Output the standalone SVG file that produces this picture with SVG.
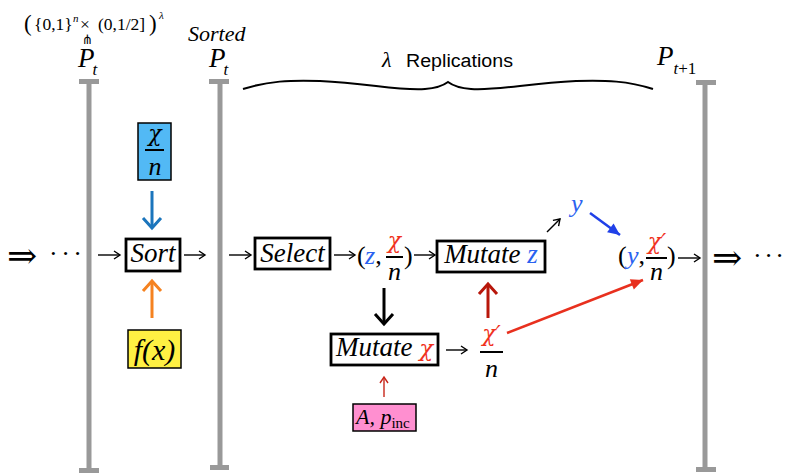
<svg xmlns="http://www.w3.org/2000/svg" width="787" height="473" viewBox="0 0 787 473">
<style>
text{font-family:"Liberation Serif","DejaVu Serif",serif;fill:#000}
.it{font-style:italic}
.sans{font-family:"Liberation Sans",Arial,sans-serif}
.dj{font-family:"DejaVu Serif",serif}
.djs{font-family:"DejaVu Sans",sans-serif}
.chi{font-family:"DejaVu Serif",serif;font-style:italic}
.bar{stroke:#999;stroke-width:5;fill:none}
.cap{fill:#999}
.box{fill:#fff;stroke:#000;stroke-width:2.8}
.tb{stroke:#000;stroke-width:1.5}
.frac{stroke:#000;stroke-width:2}
.thin{stroke:#000;stroke-width:1.4;fill:none;marker-end:url(#hThin)}
.blue{fill:#2a62f0}
.red{fill:#f0321e}
.lbl{font-size:26px}
</style>
<defs>
<marker id="hThin" markerUnits="userSpaceOnUse" markerWidth="20" markerHeight="20" viewBox="-10 -10 20 20" refX="0" refY="0" orient="auto" overflow="visible"><path d="M-6,-4 L0,0 L-6,4" fill="none" stroke="#000" stroke-width="1.4"/></marker>
<marker id="hThinRed" markerUnits="userSpaceOnUse" markerWidth="20" markerHeight="20" viewBox="-10 -10 20 20" refX="0" refY="0" orient="auto" overflow="visible"><path d="M-6,-4 L0,0 L-6,4" fill="none" stroke="#c8261a" stroke-width="1.4"/></marker>
<marker id="hBlue" markerUnits="userSpaceOnUse" markerWidth="30" markerHeight="30" viewBox="-15 -15 30 30" refX="0" refY="0" orient="auto" overflow="visible"><path d="M-10,-9 L0,0 L-10,9" fill="none" stroke="#1b75bc" stroke-width="3"/></marker>
<marker id="hOrange" markerUnits="userSpaceOnUse" markerWidth="30" markerHeight="30" viewBox="-15 -15 30 30" refX="0" refY="0" orient="auto" overflow="visible"><path d="M-10,-9 L0,0 L-10,9" fill="none" stroke="#f58220" stroke-width="3"/></marker>
<marker id="hBlack" markerUnits="userSpaceOnUse" markerWidth="30" markerHeight="30" viewBox="-15 -15 30 30" refX="0" refY="0" orient="auto" overflow="visible"><path d="M-10,-9 L0,0 L-10,9" fill="none" stroke="#000" stroke-width="3"/></marker>
<marker id="hDarkRed" markerUnits="userSpaceOnUse" markerWidth="30" markerHeight="30" viewBox="-15 -15 30 30" refX="0" refY="0" orient="auto" overflow="visible"><path d="M-10,-9 L0,0 L-10,9" fill="none" stroke="#b8170b" stroke-width="3"/></marker>
<marker id="hBlueFill" markerUnits="userSpaceOnUse" markerWidth="30" markerHeight="30" viewBox="-15 -15 30 30" refX="0" refY="0" orient="auto" overflow="visible"><path d="M-12,-5.5 L0,0 L-12,5.5 z" fill="#2040e8"/></marker>
<marker id="hRedFill" markerUnits="userSpaceOnUse" markerWidth="30" markerHeight="30" viewBox="-15 -15 30 30" refX="0" refY="0" orient="auto" overflow="visible"><path d="M-12,-5.5 L0,0 L-12,5.5 z" fill="#e8301e"/></marker>
</defs>
<rect width="787" height="473" fill="#fff"/>

<g id="bar-Pt">
<line class="bar" x1="89" y1="82" x2="89" y2="470"/>
<rect class="cap" x="79" y="79" width="20" height="5"/>
<rect class="cap" x="79" y="468" width="20" height="5"/>
<text class="it" x="78" y="67" font-size="27">P<tspan font-size="17" dx="-2" dy="8">t</tspan></text>
<text x="24" y="31" font-size="23">(</text>
<text x="34" y="30" font-size="17.5">{0,1}</text>
<text class="it" x="73" y="22" font-size="11">n</text>
<text x="80" y="30" font-size="17.5">×</text>
<text x="98" y="30" font-size="17.5">(0,1/2]</text>
<text x="149" y="31" font-size="23">)</text>
<text class="it" x="159" y="19" font-size="11">λ</text>
<text class="djs" x="87.5" y="44" font-size="13" text-anchor="middle">⋔</text>
</g>
<g id="bar-sorted">
<line class="bar" x1="220" y1="82" x2="220" y2="468"/>
<rect class="cap" x="209" y="79" width="20" height="5"/>
<rect class="cap" x="210" y="465" width="19" height="5"/>
<text class="it" x="188" y="41" font-size="22">Sorted</text>
<text class="it" x="209" y="67" font-size="27">P<tspan font-size="17" dx="-2" dy="8">t</tspan></text>
</g>
<g id="bar-Pt1">
<line class="bar" x1="705" y1="83" x2="705" y2="470"/>
<rect class="cap" x="696" y="80" width="20" height="5"/>
<rect class="cap" x="696" y="467" width="20" height="5"/>
<text class="it" x="657" y="65" font-size="27">P<tspan font-size="17" dx="0" dy="9">t</tspan><tspan font-size="17" font-style="normal">+1</tspan></text>
</g>

<g id="brace">
<path d="M243,89 C268,81 290,80 320,81 C368,83 398,91 425,89 C438,88 444,85 448,82 C452,85 458,88 471,89 C498,91 528,83 576,81 C606,80 628,81 653,89" fill="none" stroke="#000" stroke-width="2"/>
<text class="it" x="382" y="67" font-size="22">λ</text>
<text class="sans" x="406" y="67" font-size="18" textLength="107" lengthAdjust="spacingAndGlyphs">Replications</text>
</g>

<g id="left-flow">
<text class="dj" x="7" y="268" font-size="36">⇒</text>
<text x="49" y="262" font-size="26" letter-spacing="3.5">···</text>
</g>
<g id="right-flow">
<text class="dj" x="712" y="270" font-size="36">⇒</text>
<text x="753" y="264" font-size="26" letter-spacing="2.5">···</text>
</g>

<g id="chi-n-blue">
<rect x="138" y="123" width="33" height="57" fill="#52b9f5" class="tb"/>
<text class="chi" x="155" y="141" font-size="22" text-anchor="middle">χ</text>
<line class="frac" x1="145" y1="150" x2="164" y2="150"/>
<text class="it" x="155" y="175" font-size="26" text-anchor="middle">n</text>
</g>
<g id="fx">
<rect x="128" y="330" width="53" height="38" fill="#fff043" class="tb"/>
<text class="it" x="154.5" y="360" font-size="30" text-anchor="middle">f(x)</text>
</g>
<g id="sort">
<rect class="box" x="126" y="239" width="54" height="32"/>
<text class="it" x="153" y="262" font-size="27" text-anchor="middle">Sort</text>
</g>
<g id="select">
<rect class="box" x="255" y="238" width="75" height="31"/>
<text class="it" x="292.5" y="262" font-size="27" text-anchor="middle">Select</text>
</g>
<g id="z-chi-n">
<text class="lbl" x="357" y="264">(</text>
<text class="lbl it" x="365" y="264"><tspan class="blue">z</tspan><tspan font-style="normal">,</tspan></text>
<text class="chi red" x="394.5" y="248" font-size="22" text-anchor="middle">χ</text>
<line class="frac" x1="386" y1="257" x2="403" y2="257"/>
<text class="lbl it" x="394.5" y="280" text-anchor="middle">n</text>
<text class="lbl" x="404" y="264">)</text>
</g>
<g id="mutate-z">
<rect class="box" x="437" y="241" width="108" height="31"/>
<text class="it" x="491" y="263" font-size="27" text-anchor="middle">Mutate <tspan class="blue">z</tspan></text>
</g>
<g id="mutate-chi">
<rect class="box" x="331" y="334" width="107" height="31"/>
<text class="it" x="384.5" y="356" font-size="27" text-anchor="middle">Mutate <tspan class="chi red" font-size="23">χ</tspan></text>
</g>
<g id="chi-prime-n">
<text class="chi red" x="491.5" y="341" font-size="22" text-anchor="middle">χ′</text>
<line class="frac" x1="480" y1="352" x2="503" y2="352"/>
<text class="lbl it" x="491.5" y="377" text-anchor="middle">n</text>
</g>
<g id="A-pinc">
<rect x="353" y="404" width="63" height="27" fill="#ff8fd0" class="tb"/>
<text class="it" x="356" y="424" font-size="22">A, p<tspan font-style="normal" font-size="15" dy="4">inc</tspan></text>
</g>
<g id="y">
<text class="lbl it blue" x="571" y="212">y</text>
</g>
<g id="y-chi-n">
<text class="lbl" x="618" y="264">(</text>
<text class="lbl it" x="627" y="264"><tspan class="blue">y</tspan><tspan font-style="normal">,</tspan></text>
<text class="chi red" x="657" y="249" font-size="22" text-anchor="middle">χ′</text>
<line class="frac" x1="646" y1="258" x2="667" y2="258"/>
<text class="lbl it" x="656.5" y="280" text-anchor="middle">n</text>
<text class="lbl" x="667" y="264">)</text>
</g>

<g id="connectors">
<line class="thin" x1="98" y1="255" x2="120" y2="255"/>
<line class="thin" x1="184" y1="255" x2="205" y2="255"/>
<line class="thin" x1="229" y1="255" x2="251" y2="255"/>
<line class="thin" x1="334" y1="255" x2="355" y2="255"/>
<line class="thin" x1="414" y1="255" x2="435" y2="255"/>
<line class="thin" x1="446" y1="350" x2="467" y2="350"/>
<line class="thin" x1="547" y1="232" x2="560" y2="219"/>
<line class="thin" x1="678" y1="258" x2="700" y2="258"/>
<line x1="384" y1="397" x2="384" y2="377" stroke="#c8261a" stroke-width="1.4" marker-end="url(#hThinRed)"/>
<line x1="152" y1="191" x2="152" y2="228" stroke="#1b75bc" stroke-width="3" marker-end="url(#hBlue)"/>
<line x1="152" y1="318" x2="152" y2="281" stroke="#f58220" stroke-width="3" marker-end="url(#hOrange)"/>
<line x1="384" y1="288" x2="384" y2="324" stroke="#000" stroke-width="3" marker-end="url(#hBlack)"/>
<line x1="488" y1="318" x2="488" y2="284" stroke="#b8170b" stroke-width="3" marker-end="url(#hDarkRed)"/>
<line x1="590" y1="213" x2="620" y2="235" stroke="#2040e8" stroke-width="2.5" marker-end="url(#hBlueFill)"/>
<line x1="507" y1="333" x2="643" y2="280" stroke="#e8301e" stroke-width="2.5" marker-end="url(#hRedFill)"/>
</g>
</svg>
